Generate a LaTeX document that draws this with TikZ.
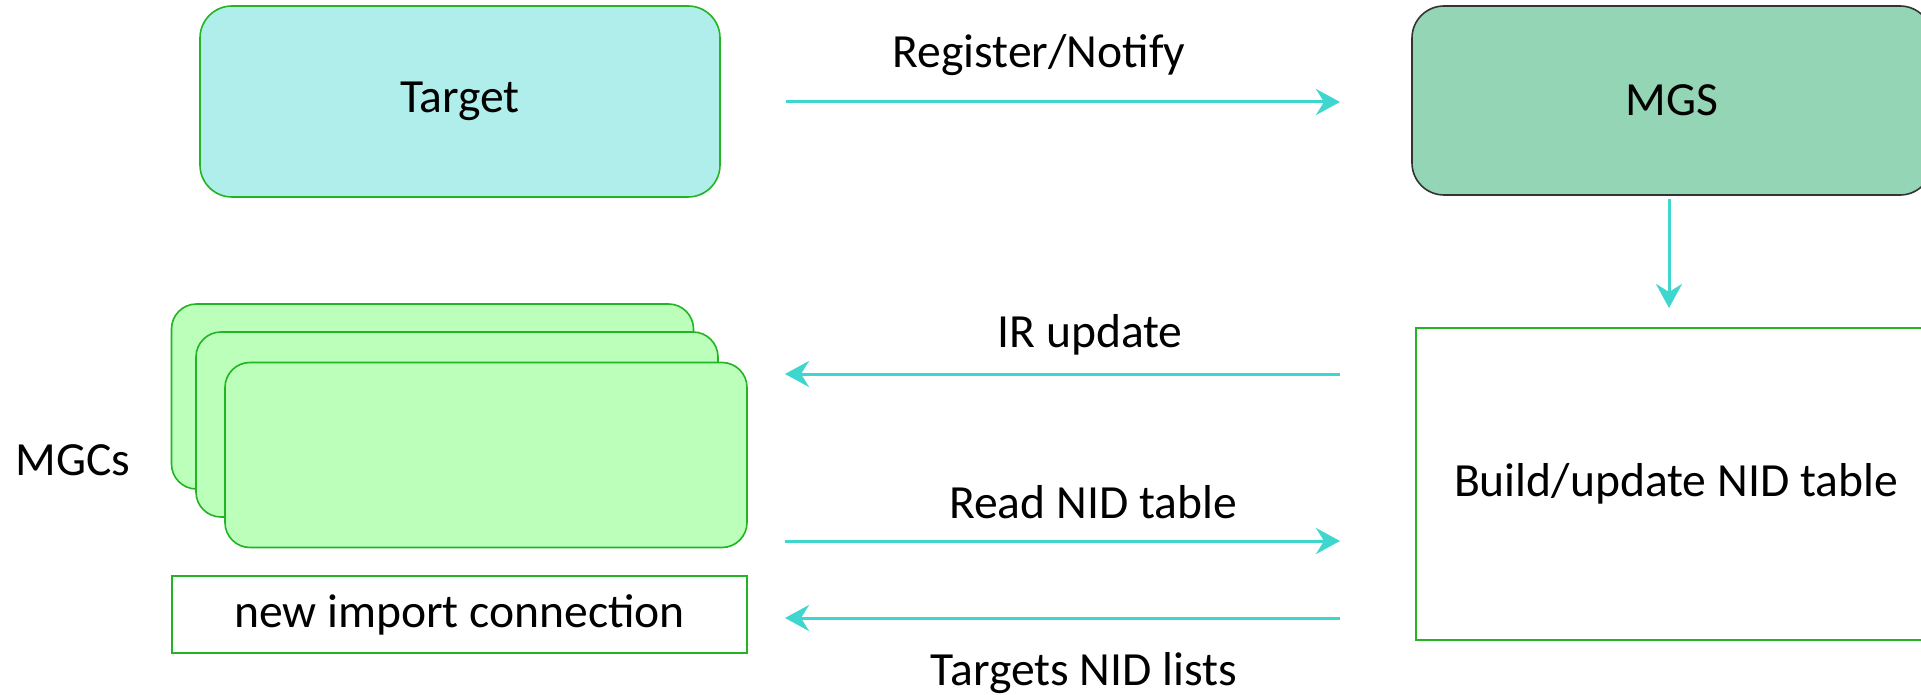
\documentclass[tikz,border=0pt]{standalone}
\usepackage{fontspec}
\setmainfont{Carlito}
\usetikzlibrary{arrows.meta}
\definecolor{tgtfill}{HTML}{AFEEEA}
\definecolor{boxgreen}{HTML}{22B422}
\definecolor{mgsfill}{HTML}{93D5B5}
\definecolor{mgcfill}{HTML}{BBFFBB}
\definecolor{flowc}{HTML}{3ED6CE}
\begin{document}
\begin{tikzpicture}[x=0.5pt,y=-0.5pt,
  every node/.style={font=\fontsize{23.8}{28}\selectfont, inner sep=0pt, outer sep=0pt},
  bigbox/.style={draw, rounded corners=16pt, minimum width=260pt},
  mgcbox/.style={draw=boxgreen, fill=mgcfill, line width=0.8pt, rounded corners=12.5pt, minimum width=261pt, minimum height=92.5pt},
  plainbox/.style={draw=boxgreen, fill=white, line width=1.3pt},
  flow/.style={draw=flowc, line width=1.5pt, -{Stealth[length=12pt,width=13pt,inset=4pt]}}
]
\useasboundingbox (0,0) rectangle (1921,695);

\node[bigbox, fill=tgtfill, draw=boxgreen, line width=0.8pt, minimum height=95.5pt] (tgt) at (460,101.5) {Target};
\node[bigbox, fill=mgsfill, draw=black!80, line width=0.8pt, minimum height=94.5pt] (mgs) at (1672,100.5) {MGS};
\node[plainbox, minimum width=260pt, minimum height=156pt] (nid) at (1676,484) {Build/update NID table};

\node[mgcbox] (mgcA) at (432.5,396.5) {};
\node[mgcbox] (mgcB) at (457,424.5) {};
\node[mgcbox] (mgcC) at (486,455) {};
\node (mgcs) at (73,460) {MGCs};
\node[plainbox, minimum width=287.5pt, minimum height=38.5pt] (imp) at (459.5,614.5) {new import connection};

\coordinate (yreg) at (0,102);
\coordinate (yir) at (0,374);
\coordinate (yread) at (0,541);
\coordinate (ytgt) at (0,618);
\coordinate (xdown) at (1669,0);

\draw[flow, shorten <=33pt, shorten >=36pt] (tgt.east |- yreg) -- (mgs.west |- yreg);
\draw[flow, shorten <=2pt, shorten >=10pt] (xdown |- mgs.south) -- (xdown |- nid.north);
\draw[flow, shorten <=38pt, shorten >=19pt] (nid.west |- yir) -- (mgcC.east |- yir);
\draw[flow, shorten <=19pt, shorten >=38pt] (mgcC.east |- yread) -- (nid.west |- yread);
\draw[flow, shorten <=38pt, shorten >=19pt] (nid.west |- ytgt) -- (imp.east |- ytgt);

\node (lreg) at (1039,55) {Register/Notify};
\node (lir) at (1090,335) {IR update};
\node (lread) at (1093,502) {Read NID table};
\node (ltgt) at (1084,673) {Targets NID lists};
\end{tikzpicture}
\end{document}
